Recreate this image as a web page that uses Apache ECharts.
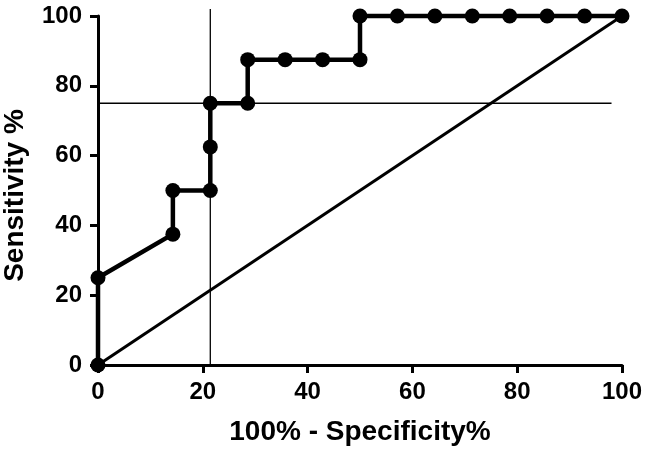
<!DOCTYPE html>
<html>
<head>
<meta charset="utf-8">
<script src="https://cdn.jsdelivr.net/npm/echarts@6/dist/echarts.min.js"></script>
<style>
html,body{margin:0;padding:0;background:#fff;}
#chart{width:647px;height:451px;}
</style>
</head>
<body>
<div id="chart"></div>
<script>
// ROC curve data (100% - Specificity%, Sensitivity%)
const rocX = [0, 0, 14.29, 14.29, 21.43, 21.43, 21.43, 28.57, 28.57, 35.71, 42.86, 50, 50, 57.14, 64.29, 71.43, 78.57, 85.71, 92.86, 100];
const rocY = [0, 25, 37.5, 50, 50, 62.5, 75, 75, 87.5, 87.5, 87.5, 87.5, 100, 100, 100, 100, 100, 100, 100, 100];
const diagX = [0, 100];
const diagY = [0, 100];
const cutX = 21.43;       // vertical reference line
const cutY = 75;          // horizontal reference line
const vLineY = [0, 102];
const hLineX = [0, 98];
const xTicks = [0, 20, 40, 60, 80, 100];
const yTicks = [0, 20, 40, 60, 80, 100];

const zip = (a, b) => a.map((v, i) => [v, b[i]]);
const font = 'Liberation Sans, Arial, sans-serif';

const chart = echarts.init(document.getElementById('chart'));
chart.setOption({
  animation: false,
  backgroundColor: '#fff',
  grid: { left: 98, right: 25, top: 16, bottom: 86, containLabel: false, outerBoundsMode: 'none' },
  xAxis: {
    type: 'value', min: 0, max: 100, interval: 20,
    name: '100% - Specificity%', nameLocation: 'middle', nameGap: 53,
    nameTextStyle: { fontFamily: font, fontWeight: 'bold', fontSize: 28, color: '#000' },
    axisLine: { show: true, lineStyle: { color: '#000', width: 3 } },
    axisTick: { show: true, length: 8, lineStyle: { color: '#000', width: 3 } },
    axisLabel: { fontFamily: font, fontWeight: 'bold', fontSize: 24, color: '#000', margin: 15 },
    splitLine: { show: false }
  },
  yAxis: {
    type: 'value', min: 0, max: 100, interval: 20,
    name: 'Sensitivity %', nameLocation: 'middle', nameGap: 69, nameRotate: 90,
    nameTextStyle: { fontFamily: font, fontWeight: 'bold', fontSize: 28, color: '#000', padding: [0, 10, 0, 0] },
    axisLine: { show: true, lineStyle: { color: '#000', width: 3 } },
    axisTick: { show: true, length: 8, lineStyle: { color: '#000', width: 3 } },
    axisLabel: { fontFamily: font, fontWeight: 'bold', fontSize: 24, color: '#000', margin: 16 },
    splitLine: { show: false }
  },
  series: [
    {
      type: 'line', data: zip([cutX, cutX], vLineY), clip: false, symbol: 'none',
      lineStyle: { color: '#000', width: 1.3 }, z: 1
    },
    {
      type: 'line', data: zip(hLineX, [cutY, cutY]), clip: false, symbol: 'none',
      lineStyle: { color: '#000', width: 1.3 }, z: 1
    },
    {
      type: 'line', data: zip(diagX, diagY), clip: false, symbol: 'none',
      lineStyle: { color: '#000', width: 3 }, z: 2
    },
    {
      type: 'line', data: zip(rocX, rocY), clip: false, symbol: 'circle', symbolSize: 15,
      itemStyle: { color: '#000' },
      lineStyle: { color: '#000', width: 4.5 }, z: 3
    }
  ]
});
</script>
</body>
</html>
